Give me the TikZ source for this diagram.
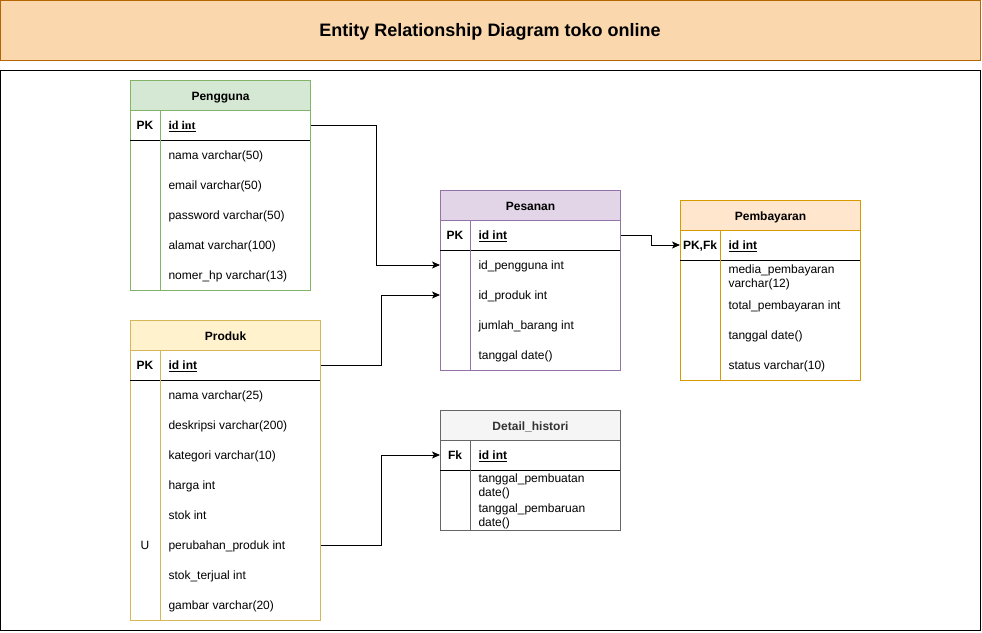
\documentclass[tikz,border=0pt]{standalone}
\usepackage{fontspec}
\setmainfont{Liberation Sans}
\newfontfamily\serifid{Liberation Serif}
\usetikzlibrary{arrows.meta}

\definecolor{titlefill}{HTML}{FAD7AC}
\definecolor{titledraw}{HTML}{B46504}
\definecolor{pgfill}{HTML}{D5E8D4}
\definecolor{pgdraw}{HTML}{82B366}
\definecolor{psfill}{HTML}{E1D5E7}
\definecolor{psdraw}{HTML}{9673A6}
\definecolor{pbfill}{HTML}{FFE6CC}
\definecolor{pbdraw}{HTML}{D79B00}
\definecolor{prfill}{HTML}{FFF2CC}
\definecolor{prdraw}{HTML}{D6B656}
\definecolor{dhfill}{HTML}{F5F5F5}
\definecolor{dhdraw}{HTML}{666666}
\definecolor{dhtext}{HTML}{333333}

\newcommand\erfont{\fontsize{12}{14}\selectfont}

\tikzset{
  head/.style={anchor=north west, minimum height=30pt, inner sep=0pt,
    text height=9pt, text depth=0pt, font=\erfont\bfseries},
  cell/.style={anchor=west, inner xsep=8pt, inner ysep=0pt, font=\erfont},
  field/.style={cell, text height=9pt, text depth=0pt},
  fieldtwo/.style={cell, align=left, yshift=-1.7pt,
    execute at begin node=\strut, execute at end node=\strut},
  key/.style={inner sep=0pt, text height=9pt, text depth=0pt, font=\erfont\bfseries},
  conn/.style={-{Stealth[length=8pt, width=7pt, inset=2pt]}, line width=1pt},
}

\begin{document}
\begin{tikzpicture}[x=1pt, y=-1pt, line width=1pt]
\useasboundingbox (0,0) rectangle (982,632);

% title and frame
\node[draw=titledraw, fill=titlefill, minimum width=980pt, minimum height=60pt,
  text height=13pt, text depth=0pt,
  font=\fontsize{18}{21}\selectfont\bfseries] (title) at (490,30) {Entity Relationship Diagram toko online};
\draw (0.5,70) rectangle (980,630);

% Pengguna
\node[head, draw=pgdraw, fill=pgfill, minimum width=180pt] (pengguna) at (130,80) {Pengguna};
\draw[draw=pgdraw, fill=white] (130,110) rectangle (310,290);
\draw (130,140) -- (310,140);
\draw[pgdraw] (160,110) -- (160,290);
\node[key] (pgPK) at (145,125) {PK};
\node[field] (pgId) at (160,125) {\serifid\bfseries\underline{id int}};
\node[field] (pgNama) at (160,155) {nama varchar(50)};
\node[field] (pgEmail) at (160,185) {email varchar(50)};
\node[field] (pgPass) at (160,215) {password varchar(50)};
\node[field] (pgAlamat) at (160,245) {alamat varchar(100)};
\node[field] (pgHp) at (160,275) {nomer\_hp varchar(13)};

% Pesanan
\node[head, draw=psdraw, fill=psfill, minimum width=180pt] (pesanan) at (440,190) {Pesanan};
\draw[draw=psdraw, fill=white] (440,220) rectangle (620,370);
\draw (440,250) -- (620,250);
\draw[psdraw] (470,220) -- (470,370);
\node[key] (psPK) at (455,235) {PK};
\node[field] (psId) at (470,235) {\bfseries\underline{id int}};
\node[field] (psPengguna) at (470,265) {id\_pengguna int};
\node[field] (psProduk) at (470,295) {id\_produk int};
\node[field] (psJumlah) at (470,325) {jumlah\_barang int};
\node[field] (psTanggal) at (470,355) {tanggal date()};

% Pembayaran
\node[head, draw=pbdraw, fill=pbfill, minimum width=180pt] (pembayaran) at (680,200) {Pembayaran};
\draw[draw=pbdraw, fill=white] (680,230) rectangle (860,380);
\draw (680,260) -- (860,260);
\draw[pbdraw] (720,230) -- (720,380);
\node[key] (pbPK) at (700,245) {PK,Fk};
\node[field] (pbId) at (720,245) {\bfseries\underline{id int}};
\node[fieldtwo] (pbMedia) at (720,277) {media\_pembayaran\\varchar(12)};
\node[field] (pbTotal) at (720,305) {total\_pembayaran int};
\node[field] (pbTanggal) at (720,335) {tanggal date()};
\node[field] (pbStatus) at (720,365) {status varchar(10)};

% Produk
\node[head, draw=prdraw, fill=prfill, minimum width=190pt] (produk) at (130,320) {Produk};
\draw[draw=prdraw, fill=white] (130,350) rectangle (320,620);
\draw (130,380) -- (320,380);
\draw[prdraw] (160,350) -- (160,620);
\node[key] (prPK) at (145,365) {PK};
\node[key, font=\erfont] (prU) at (145,545) {U};
\node[field] (prId) at (160,365) {\bfseries\underline{id int}};
\node[field] (prNama) at (160,395) {nama varchar(25)};
\node[field] (prDesk) at (160,425) {deskripsi varchar(200)};
\node[field] (prKat) at (160,455) {kategori varchar(10)};
\node[field] (prHarga) at (160,485) {harga int};
\node[field] (prStok) at (160,515) {stok int};
\node[field] (prUbah) at (160,545) {perubahan\_produk int};
\node[field] (prTerjual) at (160,575) {stok\_terjual int};
\node[field] (prGambar) at (160,605) {gambar varchar(20)};

% Detail_histori
\node[head, draw=dhdraw, fill=dhfill, text=dhtext, minimum width=180pt] (detail) at (440,410) {Detail\_histori};
\draw[draw=dhdraw, fill=white] (440,440) rectangle (620,530);
\draw (440,470) -- (620,470);
\draw[dhdraw] (470,440) -- (470,530);
\node[key] (dhFk) at (455,455) {Fk};
\node[field] (dhId) at (470,455) {\bfseries\underline{id int}};
\node[fieldtwo] (dhBuat) at (470,486) {tanggal\_pembuatan\\date()};
\node[fieldtwo] (dhBaru) at (470,516) {tanggal\_pembaruan\\date()};

% relations
\draw[conn] (pgId -| pengguna.east) -- ++(65,0) |- (psPengguna -| pesanan.west);
\draw[conn] (prId -| produk.east) -- ++(60,0) |- (psProduk -| pesanan.west);
\draw[conn] (psId -| pesanan.east) -- ++(30,0) |- (pbId -| pembayaran.west);
\draw[conn] (prUbah -| produk.east) -- ++(60,0) |- (dhId -| detail.west);
\end{tikzpicture}
\end{document}
